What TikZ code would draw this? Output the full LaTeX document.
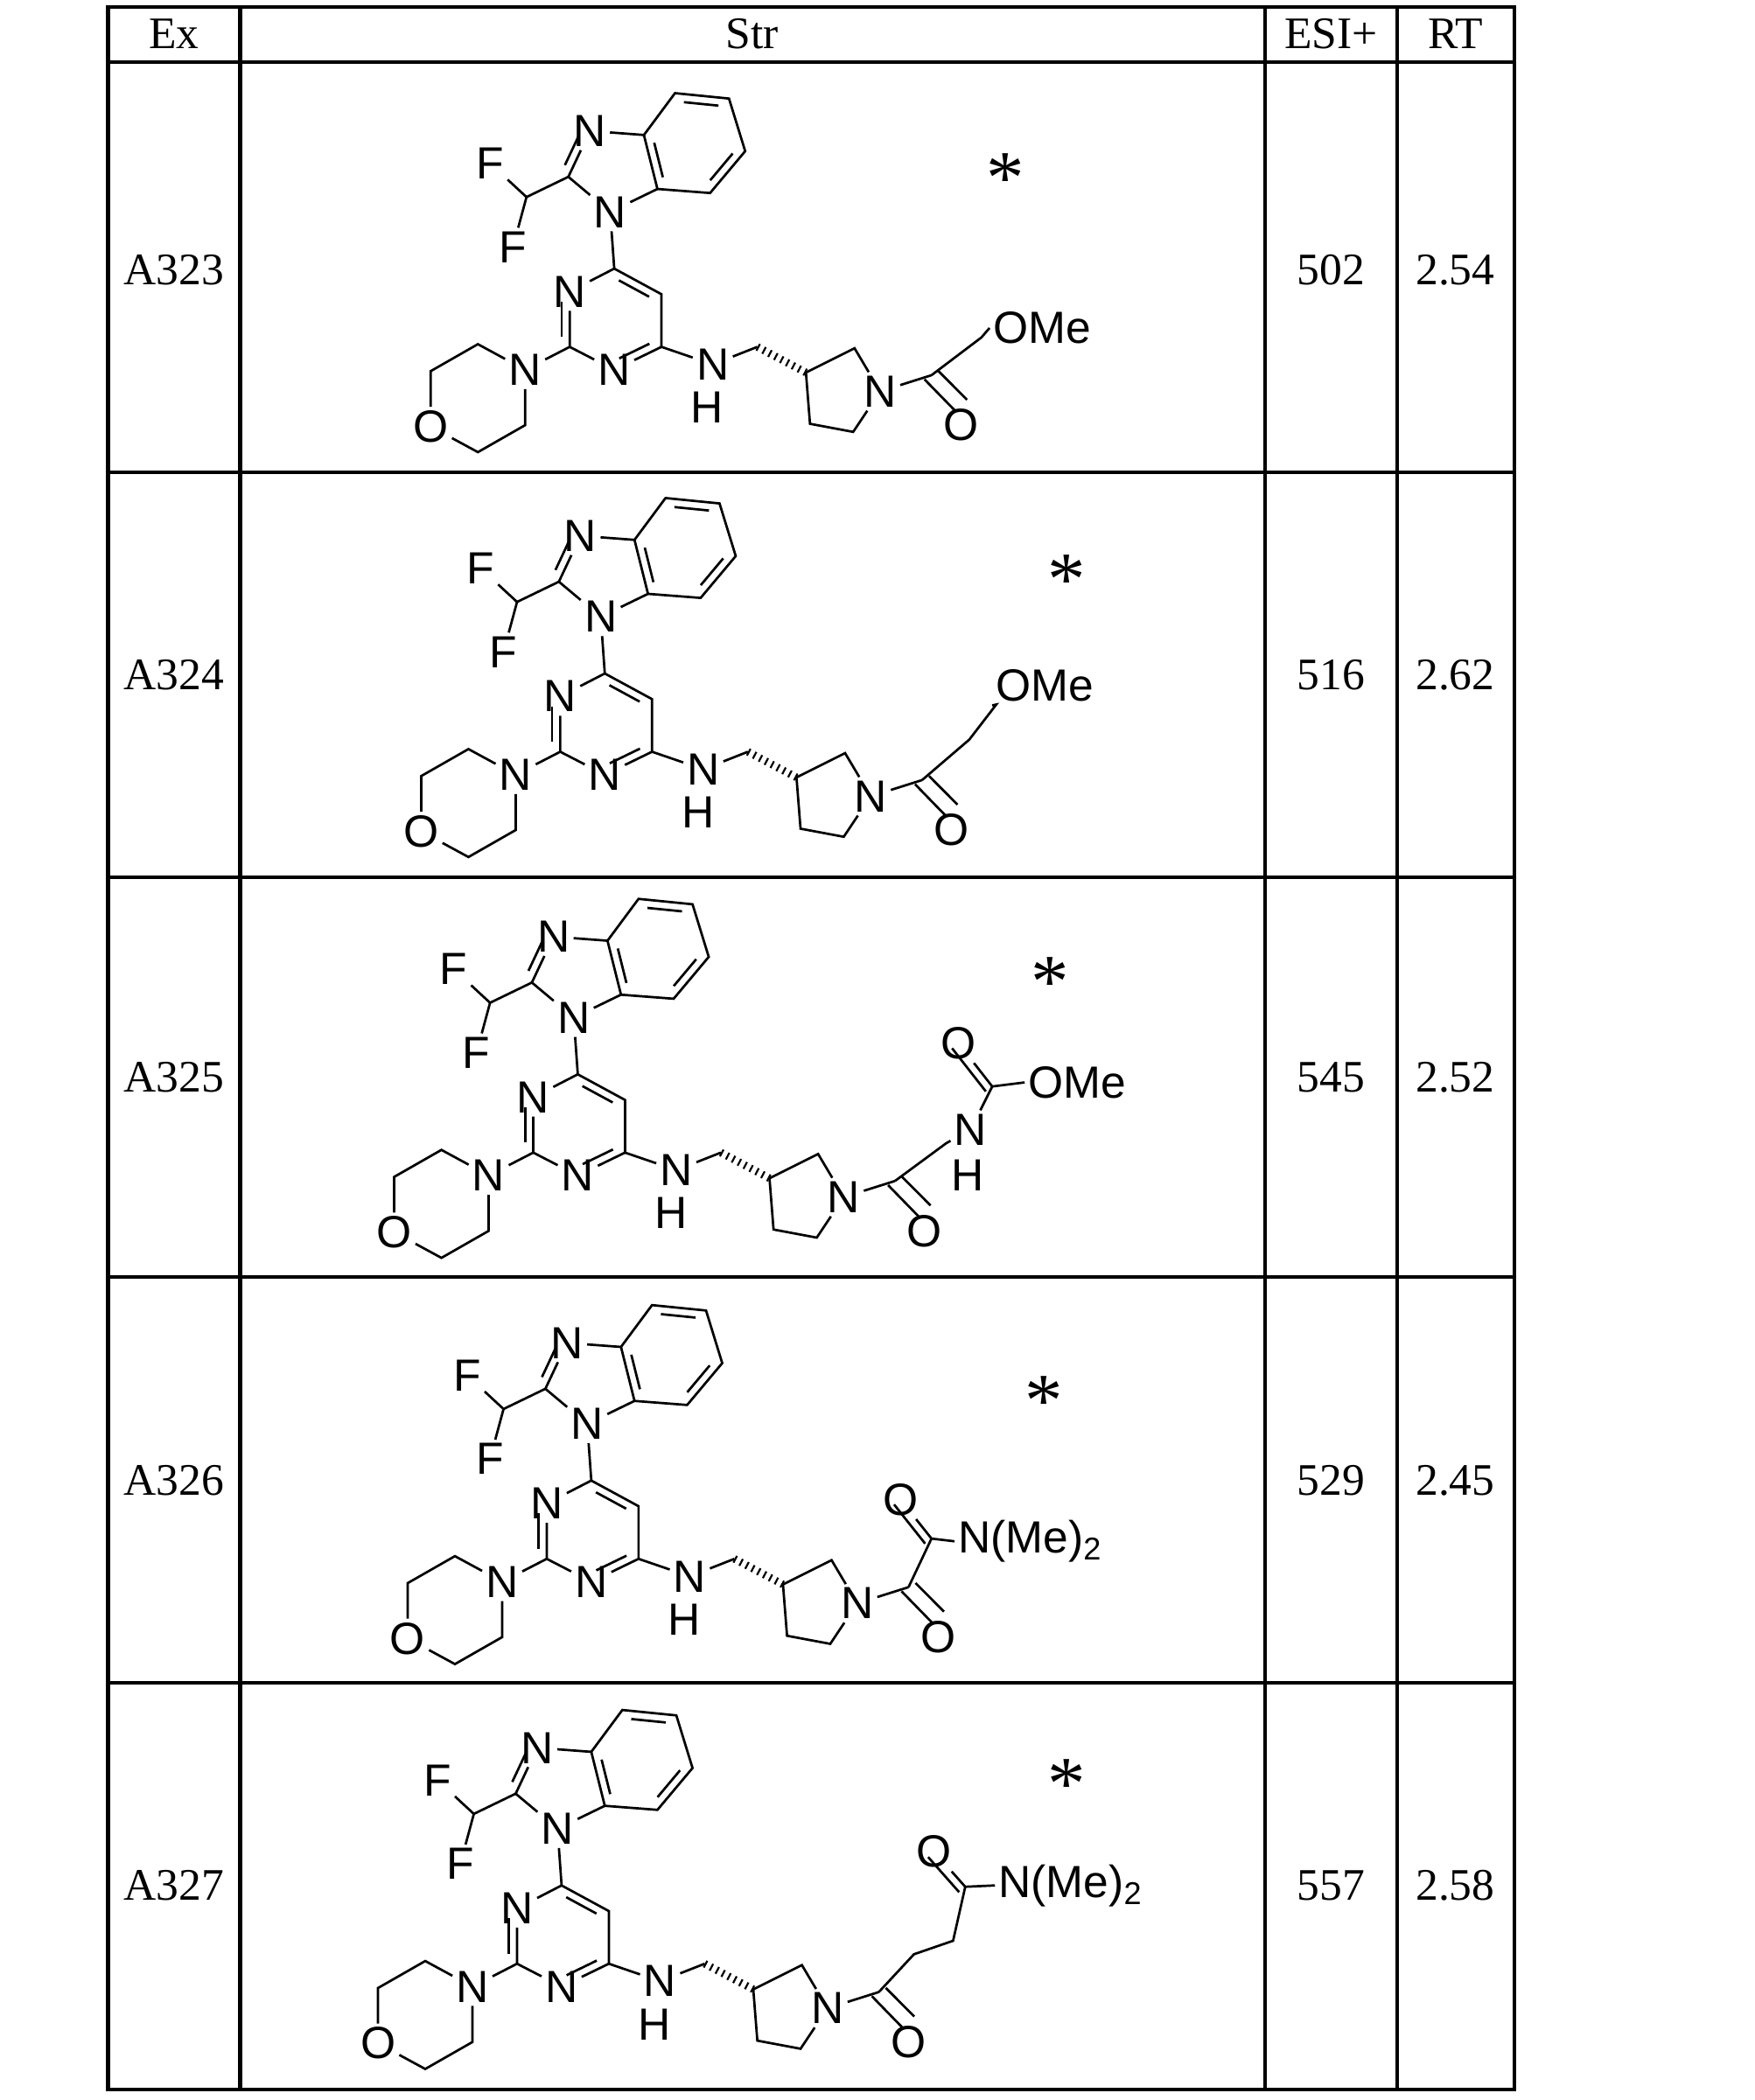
\documentclass[tikz,border=0pt]{standalone}
\usepackage{fontspec}
\setmainfont{Liberation Serif}
\newfontfamily\atomfont{Liberation Sans}
\usetikzlibrary{calc}
\tikzset{
  atom/.style={font=\atomfont\fontsize{9.5pt}{10pt}\selectfont, inner sep=0.6pt},
  starmark/.style={font=\fontsize{16pt}{16pt}\selectfont, inner sep=0pt},
  cell/.style={font=\fontsize{9.5pt}{10pt}\selectfont},
  bond/.style={line width=0.5pt},
  hash/.style={line width=1.6pt, dash pattern=on 0.4pt off 1pt},
}
% inner line of a double bond
\newcommand{\dbl}[3]{\draw[bond] ($(#1)!0.18!(#2)!0.06cm!#3:(#2)$) -- ($(#2)!0.18!(#1)!0.06cm!-#3:(#1)$);}
\newcommand{\core}{%
  %%%%%%%% benzimidazol %%%%%%%%
  \node[atom] (n1) at (452,157) {N};
  \coordinate (c2) at (421,131);
  \node[atom] (n3) at (437,97) {N};
  \coordinate (c3a) at (477,100);
  \coordinate (c7a) at (487,140);
  \coordinate (c4) at (500,69);
  \coordinate (c5) at (540,73);
  \coordinate (c6) at (552,112);
  \coordinate (c7) at (526,143);
  \draw[bond] (n1) -- (c2) -- (n3) -- (c3a) -- (c7a) -- (n1);
  \draw[bond] (c3a) -- (c4) -- (c5) -- (c6) -- (c7) -- (c7a);
  \dbl{c2}{n3}{90} \dbl{c4}{c5}{-90} \dbl{c6}{c7}{-90} \dbl{c3a}{c7a}{90}
  \coordinate (chf) at (390,146);
  \node[atom] (f1) at (363,121) {F};
  \node[atom] (f2) at (380,183) {F};
  \draw[bond] (c2) -- (chf) -- (f1); \draw[bond] (chf) -- (f2);
  %%%%%%%% pirimidina %%%%%%%%
  \coordinate (p4) at (455,199);
  \coordinate (p5) at (490,218);
  \coordinate (p6) at (490,257);
  \node[atom] (pn1) at (422,216) {N};
  \coordinate (p2) at (422,257);
  \node[atom] (pn3) at (455,274) {N};
  \draw[bond] (n1) -- (p4) -- (p5) -- (p6) -- (pn3) -- (p2) -- (pn1) -- (p4);
  \dbl{pn1}{p2}{-90} \dbl{p4}{p5}{-90} \dbl{p6}{pn3}{-90}
  %%%%%%%% morfolina %%%%%%%%
  \node[atom] (mn) at (389,274) {N};
  \coordinate (m1) at (354,255);
  \coordinate (m2) at (319,275);
  \node[atom] (mo) at (319,316) {O};
  \coordinate (m3) at (354,335);
  \coordinate (m4) at (389,315);
  \draw[bond] (p2) -- (mn) -- (m1) -- (m2) -- (mo) -- (m3) -- (m4) -- (mn);
  %%%%%%%% amina y pirrolidina %%%%%%%%
  \node[atom] (nh) at (528,270) {N};
  \node[atom] at (524,302) {H};
  \coordinate (ch2) at (561,257);
  \coordinate (r3) at (597,276);
  \coordinate (r2) at (633,258);
  \node[atom] (rn) at (652,290) {N};
  \coordinate (r5) at (632,320);
  \coordinate (r4) at (600,314);
  \draw[bond] (p6) -- (nh) -- (ch2);
  \draw[hash] (ch2) -- (r3);
  \draw[bond] (r3) -- (r2) -- (rn) -- (r5) -- (r4) -- (r3);
  \coordinate (co) at (690,278);
  \node[atom] (o1) at (712,315) {O};
  \draw[bond] (rn) -- (co);
  \draw[bond] ($(co)!0.06cm!90:(o1)$) -- ($(o1.north)!0.06cm!-90:(co)$);
  \draw[bond] ($(co)!0.06cm!-90:(o1)$) -- ($(o1.north)!0.06cm!90:(co)$);
}
\begin{document}
\begin{tikzpicture}[x=0.01cm, y=-0.01cm]
\useasboundingbox (0,0) rectangle (1300,1556);
%%%%%%%%%%%%%%%%%%%%%%%% Tabla %%%%%%%%%%%%%%%%%%%%%%%%
\draw[line width=0.8pt] (80,5) rectangle (1122,1548);
\foreach \cx in {178,937,1035} \draw[line width=0.8pt] (\cx,5) -- (\cx,1548);
\foreach \ry in {46,350,650,946,1247} \draw[line width=0.8pt] (80,\ry) -- (1122,\ry);
\node[cell] (hex) at (129,25) {Ex};
\node[cell] (hstr) at (557,25) {Str};
\node[cell] (hesi) at (986,25) {ESI+};
\node[cell] (hrt) at (1078,25) {RT};
\foreach \ry/\ex/\esi/\rt in {200/A323/502/2.54, 500/A324/516/2.62, 798/A325/545/2.52, 1097/A326/529/2.45, 1397/A327/557/2.58}{
  \node[cell] at (129,\ry) {\ex};
  \node[cell] at (986,\ry) {\esi};
  \node[cell] at (1078,\ry) {\rt};
}
%%%%%%%%%%%%%%%%%%%%%%%% A323 %%%%%%%%%%%%%%%%%%%%%%%%
\begin{scope}
  \core
  \node[starmark] at (745,132) {*};
  \coordinate (t1) at (727,250);
  \node[atom, anchor=west] (ome) at (733,243) {OMe};
  \draw[bond] (co) -- (t1) -- (ome.west);
\end{scope}
%%%%%%%%%%%%%%%%%%%%%%%% A324 %%%%%%%%%%%%%%%%%%%%%%%%
\begin{scope}[shift={(-7,300)}]
  \core
  \node[starmark] at (797,130) {*};
  \coordinate (t1) at (725,248);
  \coordinate (t2) at (745,222);
  \node[atom, anchor=west] (ome) at (742,208) {OMe};
  \draw[bond] (co) -- (t1) -- (t2) -- (ome.south west);
\end{scope}
%%%%%%%%%%%%%%%%%%%%%%%% A325 %%%%%%%%%%%%%%%%%%%%%%%%
\begin{scope}[shift={(-27,597)}]
  \core
  \node[starmark] at (805,131) {*};
  \coordinate (t1) at (728,250);
  \node[atom] (nh2) at (746,240) {N};
  \node[atom] at (744,274) {H};
  \coordinate (cc) at (762,208);
  \node[atom] (o2) at (737,176) {O};
  \node[atom, anchor=west] (ome) at (786,205) {OMe};
  \draw[bond] (co) -- (t1) -- (nh2) -- (cc) -- (ome.west);
  \draw[bond] (cc) -- (o2);
  \draw[bond] ($(cc)!0.06cm!90:(o2)$) -- ($(o2)!0.06cm!-90:(cc)$);
\end{scope}
%%%%%%%%%%%%%%%%%%%%%%%% A326 %%%%%%%%%%%%%%%%%%%%%%%%
\begin{scope}[shift={(-17,898)}]
  \core
  \node[starmark] at (790,140) {*};
  \coordinate (cc) at (707,242);
  \node[atom] (o2) at (684,213) {O};
  \node[atom, anchor=west] (nme) at (724,244) {N(Me)\textsubscript{2}};
  \draw[bond] (co) -- (cc) -- (nme.west);
  \draw[bond] (cc) -- (o2);
  \draw[bond] ($(cc)!0.06cm!90:(o2)$) -- ($(o2)!0.06cm!-90:(cc)$);
\end{scope}
%%%%%%%%%%%%%%%%%%%%%%%% A327 %%%%%%%%%%%%%%%%%%%%%%%%
\begin{scope}[shift={(-39,1198)}]
  \core
  \node[starmark] at (829,124) {*};
  \coordinate (t1) at (716,250);
  \coordinate (t2) at (745,240);
  \coordinate (cc) at (754,200);
  \node[atom] (o2) at (731,174) {O};
  \node[atom, anchor=west] (nme) at (776,199) {N(Me)\textsubscript{2}};
  \draw[bond] (co) -- (t1) -- (t2) -- (cc) -- (nme.west);
  \draw[bond] (cc) -- (o2);
  \draw[bond] ($(cc)!0.06cm!90:(o2)$) -- ($(o2)!0.06cm!-90:(cc)$);
\end{scope}
\end{tikzpicture}
\end{document}
